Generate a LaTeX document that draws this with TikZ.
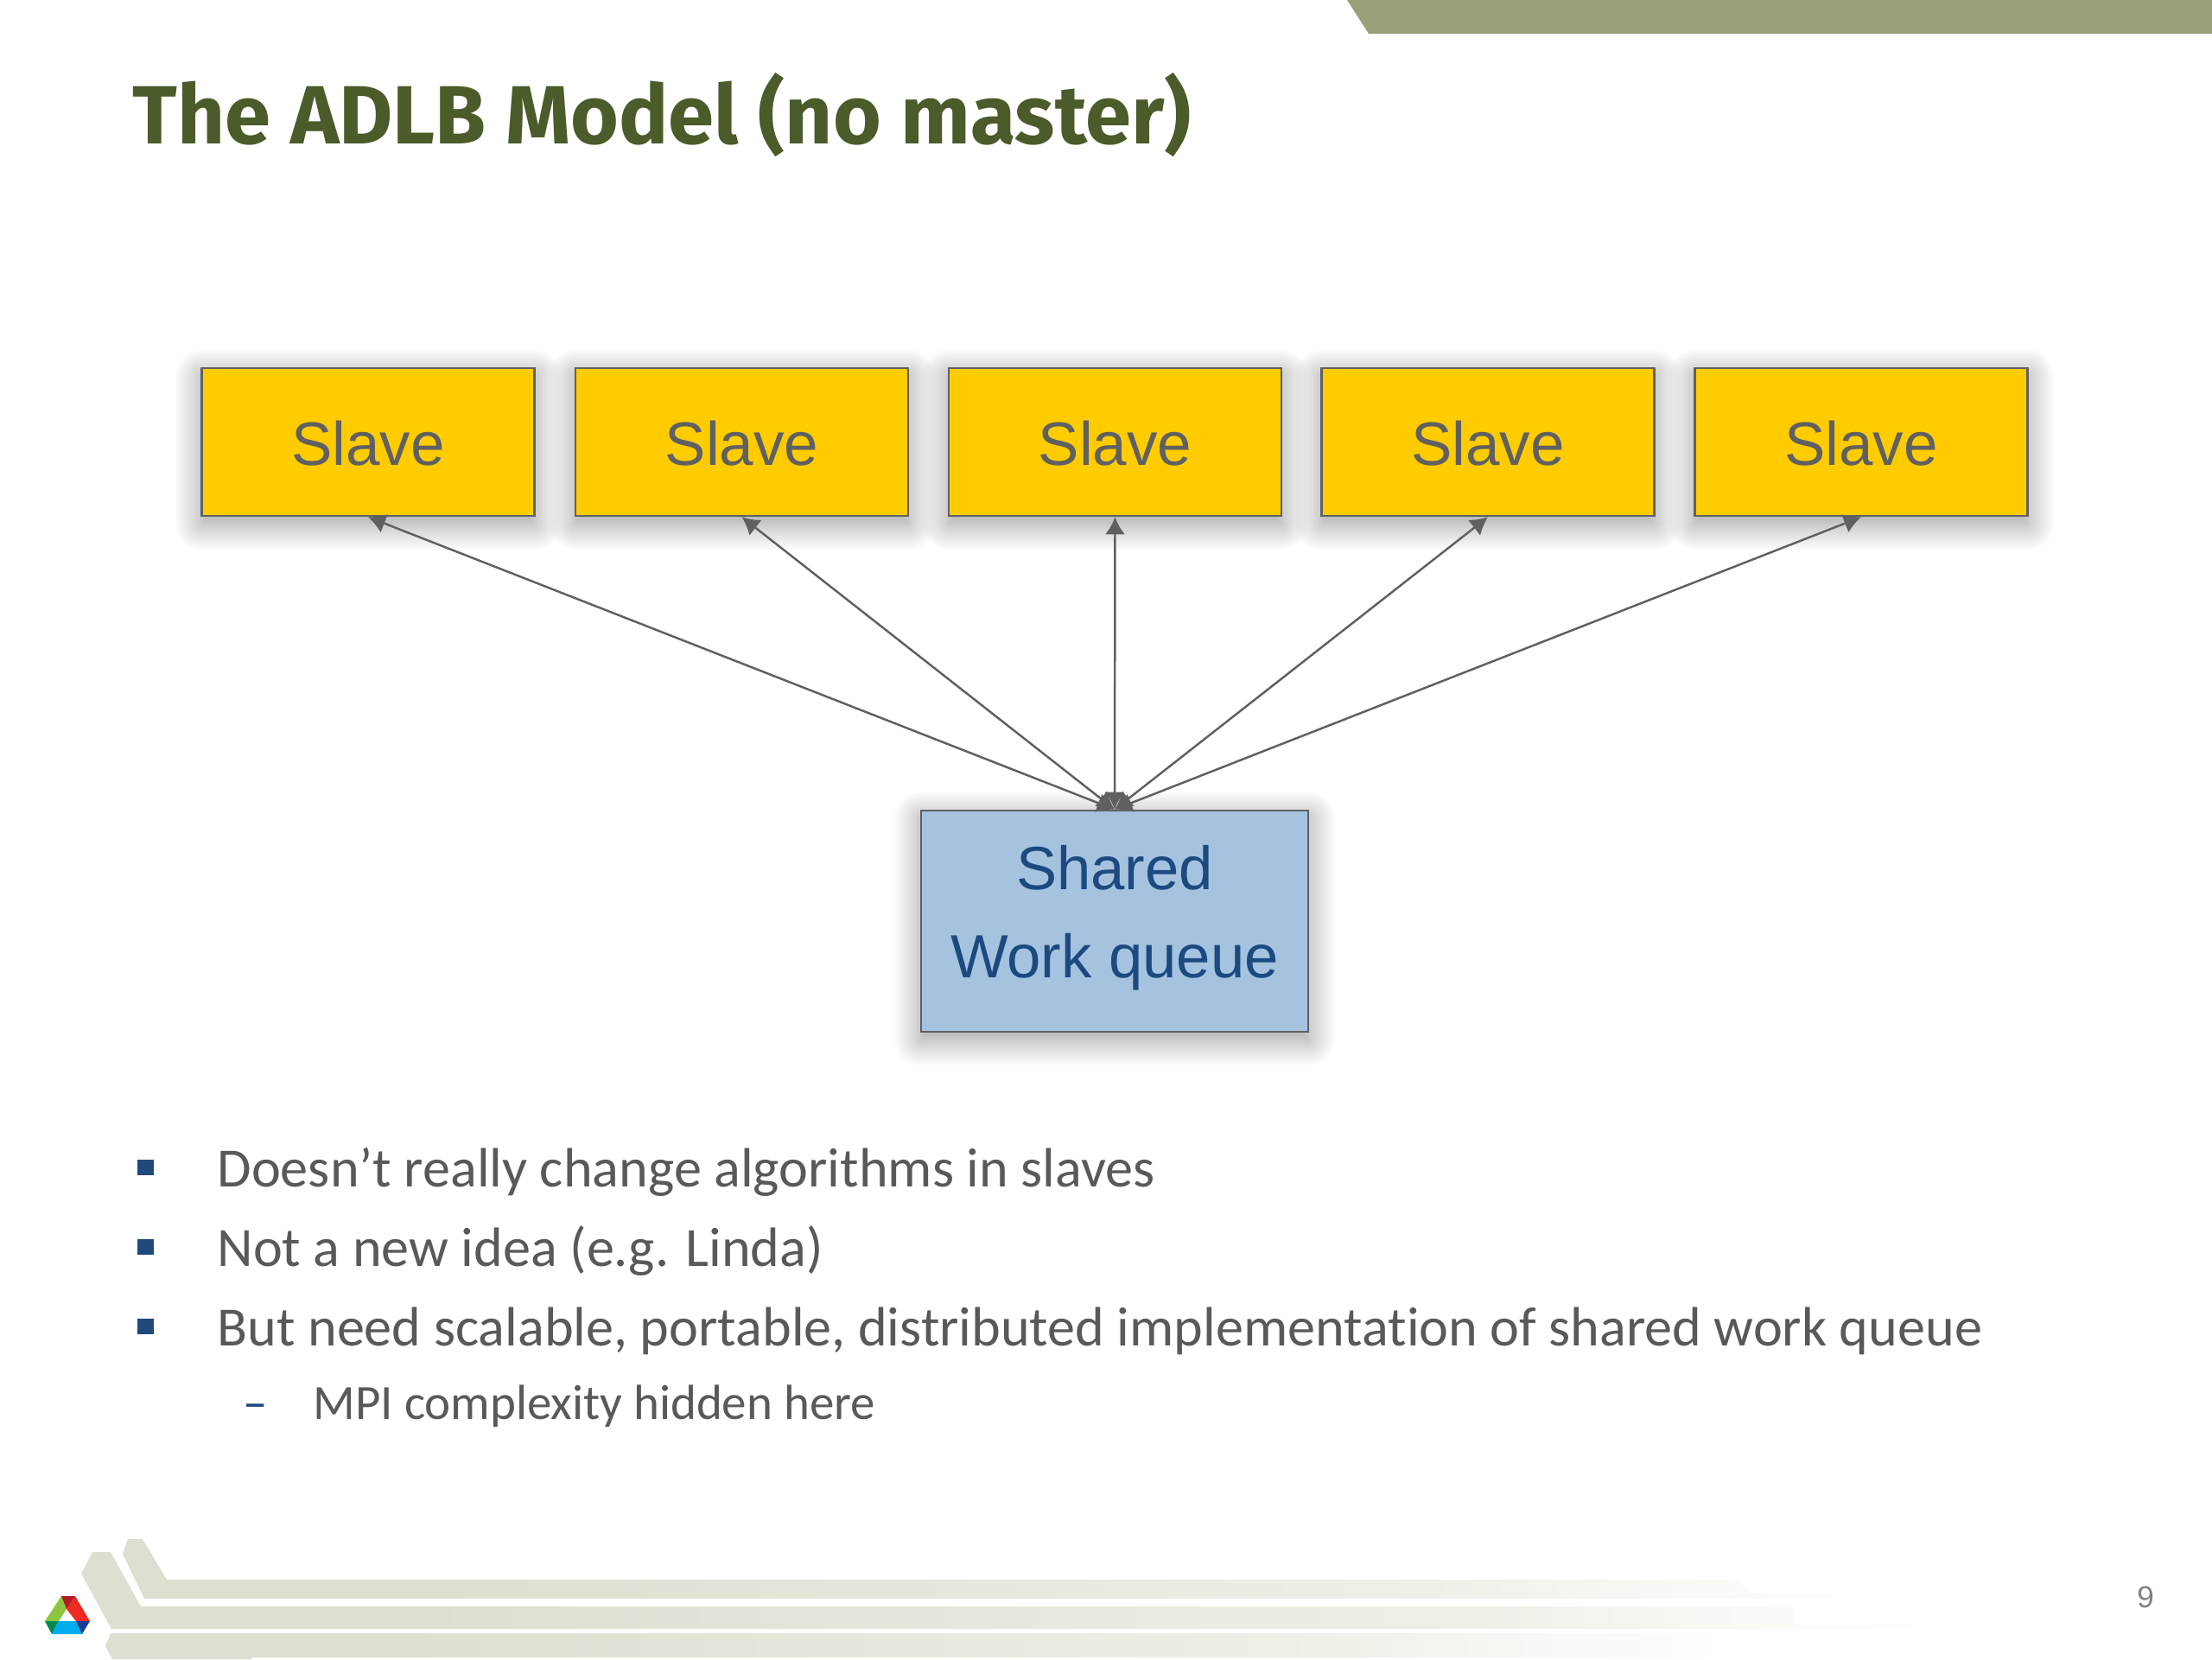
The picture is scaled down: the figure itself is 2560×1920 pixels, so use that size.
\documentclass[tikz,border=0pt]{standalone}
\usepackage{fontspec}
\setmainfont[Ligatures=NoCommon]{Carlito}
\newfontfamily\arialfont{Liberation Sans}
\newfontfamily\titlefont{Fira Sans}
\usetikzlibrary{arrows.meta,shadows.blur}
\definecolor{slavefill}{HTML}{FFCC00}
\definecolor{queuefill}{HTML}{A5C3DF}
\definecolor{queuetext}{HTML}{1C4A80}
\definecolor{edgegrey}{HTML}{5F6062}
\definecolor{titlegreen}{HTML}{4B5B29}
\definecolor{bandgreen}{HTML}{999F76}
\definecolor{footgrey}{HTML}{DDDFD0}
\definecolor{footpale}{HTML}{F0F0E9}
\definecolor{footfaint}{HTML}{FAFAF7}
\definecolor{bodygrey}{HTML}{595959}
\definecolor{bulletblue}{HTML}{1F497D}
\definecolor{logogreen}{HTML}{8CC63F}
\definecolor{logored}{HTML}{EE2A24}
\definecolor{logomaroon}{HTML}{B01E24}
\definecolor{logoteal}{HTML}{008C50}
\definecolor{logocyan}{HTML}{00AEEF}
\definecolor{logonavy}{HTML}{1A3E8F}
\pgfdeclarehorizontalshading{footfade}{100bp}{color(0bp)=(footgrey); color(34bp)=(footgrey); color(62bp)=(footpale); color(70bp)=(footfaint); color(75bp)=(white); color(100bp)=(white)}
\tikzset{
  box/.style={draw=edgegrey, line width=0.7pt, inner sep=0pt,
    blur shadow={shadow xshift=0pt, shadow yshift=-2.5pt, shadow blur radius=9pt, shadow blur steps=20, shadow opacity=42}},
  slavebox/.style={box, fill=slavefill, minimum width=3.85cm, minimum height=1.71cm, text height=15.6pt,
    text=edgegrey, font=\arialfont\fontsize{20.2}{26}\selectfont},
  queuebox/.style={box, fill=queuefill, minimum width=4.48cm, minimum height=2.56cm, align=center,
    text=queuetext, font=\arialfont\fontsize{20.1}{29}\selectfont},
  link/.style={{Latex[length=5.7pt,width=6.5pt]}-{Latex[length=5.7pt,width=6.5pt]}, draw=edgegrey, line width=0.7pt},
  bulletbox/.style={fill=bulletblue, inner sep=0pt, minimum size=5.2pt},
  itemtext/.style={anchor=base west, inner sep=0pt, text=bodygrey, font=\fontsize{18.25}{22}\selectfont},
  subtext/.style={itemtext, font=\fontsize{16.2}{20}\selectfont},
  footband/.style={shading=footfade}
}
\begin{document}
\begin{tikzpicture}[x=0.01cm, y=-0.01cm]
    \useasboundingbox (0,0) rectangle (2560,1920);
    \fill[bandgreen] (1559,0) -- (1584,39) -- (2560,39) -- (2560,0) -- cycle;
    \node[anchor=base west, inner sep=0pt, text=titlegreen, font=\titlefont\bfseries\fontsize{27.2}{32}\selectfont] (title) at (153,166) {The ADLB Model (no master)};

    \foreach \i/\x in {1/426, 2/858.5, 3/1290.5, 4/1722, 5/2154}
        \node[slavebox] (slave\i) at (\x,511.5) {Slave};
    \node[queuebox] (queue) at (1290,1066) {Shared\\Work queue\\[-22.4pt]};
    \foreach \i in {1,...,5}
        \draw[link] (queue.north) -- (slave\i.south);

    \node[bulletbox] (bullet1) at (168.5,1351) {};
    \node[bulletbox] (bullet2) at (168.5,1443) {};
    \node[bulletbox] (bullet3) at (168.5,1535) {};
    \node[itemtext] (item1) at (251,1373) {Doesn’t really change algorithms in slaves};
    \node[itemtext] (item2) at (251,1465) {Not a new idea (e.g. Linda)};
    \node[itemtext] (item3) at (251,1557) {But need scalable, portable, distributed implementation of shared work queue};
    \node[subtext, text=bulletblue] (dash) at (281,1642) {–};
    \node[subtext] (item4) at (362,1642) {MPI complexity hidden here};

    \path[footband] (142,1798) -- (148,1781) -- (165,1781) -- (193,1828) -- (2010,1828) -- (2024,1843) -- (2185,1845) -- (2185,1850) -- (167,1850) -- cycle;
    \path[footband] (94,1821) -- (107,1796) -- (128,1796) -- (163,1859) -- (2076,1859) -- (2078,1880) -- (2275,1880) -- (2275,1885) -- (129,1885) -- cycle;
    \path[footband] (122,1905) -- (128,1890) -- (2031,1890) -- (2024,1918) -- (293,1918) -- (290,1920) -- (130,1920) -- cycle;

    \fill[logogreen] (71,1847) -- (77,1862) -- (68,1876) -- (52,1876) -- cycle;
    \fill[logored] (87,1847) -- (104,1876) -- (88,1876) -- (77,1862) -- cycle;
    \fill[logomaroon] (71,1847) -- (87,1847) -- (77,1862) -- cycle;
    \fill[logoteal] (52,1876) -- (68,1876) -- (60,1891) -- cycle;
    \fill[logocyan] (68,1876) -- (88,1876) -- (95,1891) -- (60,1891) -- cycle;
    \fill[logonavy] (88,1876) -- (104,1876) -- (95,1891) -- cycle;

    \node[text=gray, font=\arialfont\fontsize{10}{12}\selectfont, inner sep=0pt] (pagenum) at (2483,1848) {9};
\end{tikzpicture}
\end{document}
